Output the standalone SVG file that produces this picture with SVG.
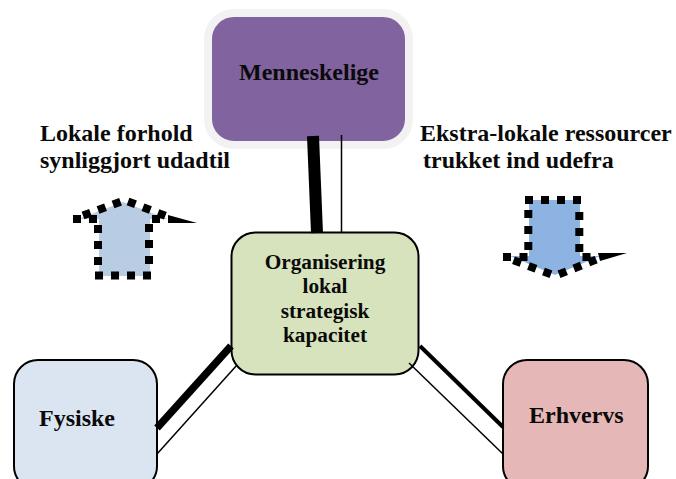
<svg xmlns="http://www.w3.org/2000/svg" width="676" height="479" viewBox="0 0 676 479">
<style>
text{font-family:"Liberation Serif","Times New Roman",serif;font-weight:bold;fill:#0a0a0a}
.h{font-size:24px}
.c{font-size:21.300px;text-anchor:middle}
.box{stroke:#000;stroke-width:2}
.dot{stroke:#000;stroke-width:8;stroke-dasharray:8 8;fill:none}
</style>
<rect width="676" height="479" fill="#fff"/>
<g id="menneskelige">
<rect x="208" y="13" width="201" height="132" rx="26" fill="#80639f" stroke="#f2f2f2" stroke-width="8"/>
<text class="h" x="239" y="80">Menneskelige</text>
</g>
<g id="organisering">
<rect x="231.500" y="232.500" width="187" height="142" rx="24" fill="#d7e3bc" class="box"/>
<text class="c" x="325" y="269">Organisering</text>
<text class="c" x="325" y="293">lokal</text>
<text class="c" x="325" y="318">strategisk</text>
<text class="c" x="325" y="342">kapacitet</text>
</g>
<g id="fysiske">
<rect x="14" y="360" width="143" height="130" rx="24" fill="#dbe5f1" class="box"/>
<text class="h" x="39" y="426">Fysiske</text>
</g>
<g id="erhvervs">
<rect x="503" y="360" width="145" height="130" rx="24" fill="#e5b8b7" class="box"/>
<text class="h" x="529" y="423">Erhvervs</text>
</g>
<g id="connectors" stroke="#000" fill="none">
<line x1="313" y1="136" x2="317" y2="233" stroke-width="12"/>
<line x1="341.500" y1="135" x2="341.500" y2="233" stroke-width="1.500"/>
<line x1="231" y1="346" x2="157" y2="428" stroke-width="7.500"/>
<line x1="237" y1="365" x2="157" y2="454" stroke-width="1.500"/>
<line x1="420" y1="346" x2="503" y2="427" stroke-width="4"/>
<line x1="409" y1="363" x2="503" y2="454" stroke-width="1.500"/>
</g>
<g id="lokale-label">
<text class="h" x="40" y="141">Lokale forhold</text>
<text class="h" x="40" y="168">synliggjort udadtil</text>
</g>
<g id="ekstra-label">
<text class="h" x="420" y="141">Ekstra-lokale ressourcer</text>
<text class="h" x="423" y="168">trukket ind udefra</text>
</g>
<g id="up-arrow">
<path d="M99 276V219H78L123 202L168 219H150V276Z" fill="#b8cce4"/>
<path class="dot" d="M98 225V266M95 275.500H153M149 224V265M89 219h8M152 219h8M73 219h8M83 215.500L121 201.500M128 201.500L166 216"/>
<path d="M168 215L197 223H168Z" fill="#000"/>
</g>
<g id="down-arrow">
<path d="M529 200H580V256H600L555 275L510 256H529Z" fill="#8db3e2"/>
<path class="dot" d="M525 200H583M528.300 210V251M579.300 212V253M519.500 257h8M582.500 257h8M503 257h8M513.500 260.300L551 274.300M559 274.300L596.500 259.500"/>
<path d="M598 253L627 253L600 261Z" fill="#000"/>
</g>
</svg>
